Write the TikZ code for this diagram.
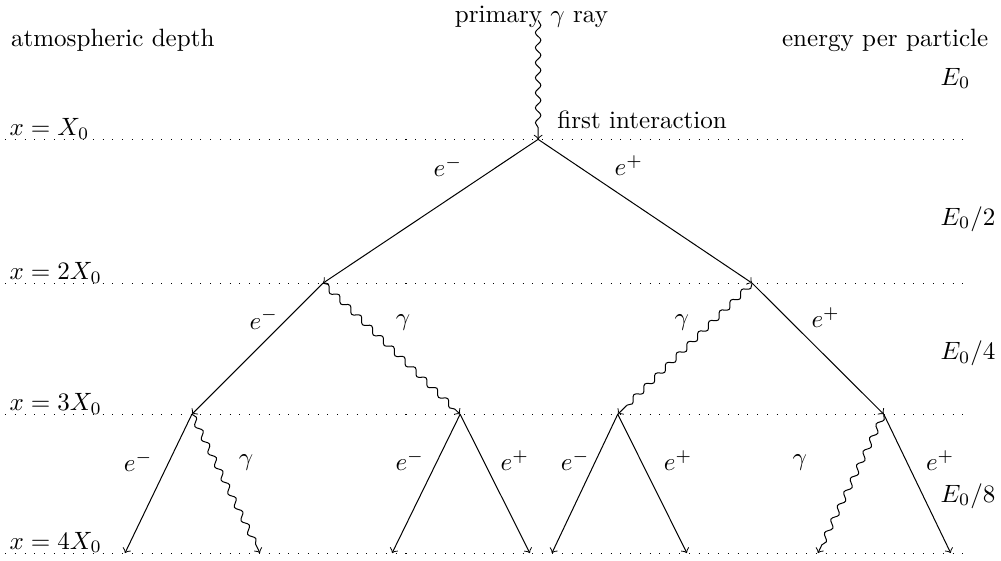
\documentclass[tikz,border=0pt]{standalone}
\usetikzlibrary{decorations.pathmorphing}
\begin{document}
\begin{tikzpicture}[scale=0.776,
  lepton/.style={->},
  photon/.style={->, decorate, decoration={snake, amplitude=1.1pt, segment length=6pt, post length=2.5pt}},
  depthline/.style={dash pattern=on 0.4pt off 3.5pt},
]
  \useasboundingbox (0,0) rectangle (18.10,10.13);
  % depth levels
  \foreach \y/\t [count=\i] in {7.61/, 5.01/2, 2.64/3, 0.13/4} {
    \draw[depthline] (0.09,\y) -- (17.54,\y);
    \node[anchor=base west, inner sep=1pt] (x\i) at (0.12,\y+0.07) {$x=\t X_0$};
  }
  \node[anchor=base west] (depth) at (0.04,9.29) {atmospheric depth};
  \node[anchor=base east] (energy) at (18.03,9.29) {energy per particle};
  \node[anchor=base west] (E1) at (16.85,8.59) {$E_0$};
  \node[anchor=base west] (E2) at (16.85,6.06) {$E_0/2$};
  \node[anchor=base west] (E3) at (16.85,3.63) {$E_0/4$};
  \node[anchor=base west] (E4) at (16.85,1.05) {$E_0/8$};

  \coordinate (src) at (9.73,9.76);
  \coordinate (O) at (9.73,7.61);
  \coordinate (A) at (5.84,5.01);
  \coordinate (B) at (13.60,5.01);
  \coordinate (C1) at (3.47,2.64);
  \coordinate (C2) at (8.32,2.64);
  \coordinate (C3) at (11.17,2.64);
  \coordinate (C4) at (15.98,2.64);
  \coordinate (D1) at (2.26,0.13);
  \coordinate (D2) at (4.70,0.13);
  \coordinate (D3) at (7.09,0.13);
  \coordinate (D4) at (9.58,0.13);
  \coordinate (D5) at (9.98,0.13);
  \coordinate (D6) at (12.42,0.13);
  \coordinate (D7) at (14.79,0.13);
  \coordinate (D8) at (17.19,0.13);

  \node[anchor=base] (primary) at (9.61,9.73) {primary $\gamma$ ray};
  \node[anchor=base west] (first) at (9.92,7.81) {first interaction};

  \draw[photon] (src) -- (O);
  \draw[lepton] (O) -- (A);
  \draw[lepton] (O) -- (B);
  \draw[lepton] (A) -- (C1);
  \draw[photon] (A) -- (C2);
  \draw[photon] (B) -- (C3);
  \draw[lepton] (B) -- (C4);
  \draw[lepton] (C1) -- (D1);
  \draw[photon] (C1) -- (D2);
  \draw[lepton] (C2) -- (D3);
  \draw[lepton] (C2) -- (D4);
  \draw[lepton] (C3) -- (D5);
  \draw[lepton] (C3) -- (D6);
  \draw[photon] (C4) -- (D7);
  \draw[lepton] (C4) -- (D8);

  \node (l1) at (8.10,7.12) {$e^-$};
  \node (l2) at (11.37,7.14) {$e^+$};
  \node (l3) at (4.77,4.36) {$e^-$};
  \node (l4) at (7.29,4.30) {$\gamma$};
  \node (l5) at (12.33,4.30) {$\gamma$};
  \node (l6) at (14.93,4.38) {$e^+$};
  \node (l7) at (2.50,1.79) {$e^-$};
  \node (l8) at (4.45,1.77) {$\gamma$};
  \node (l9) at (7.41,1.81) {$e^-$};
  \node (l10) at (9.31,1.81) {$e^+$};
  \node (l11) at (10.40,1.81) {$e^-$};
  \node (l12) at (12.26,1.81) {$e^+$};
  \node (l13) at (14.46,1.77) {$\gamma$};
  \node (l14) at (17.00,1.81) {$e^+$};
\end{tikzpicture}
\end{document}
